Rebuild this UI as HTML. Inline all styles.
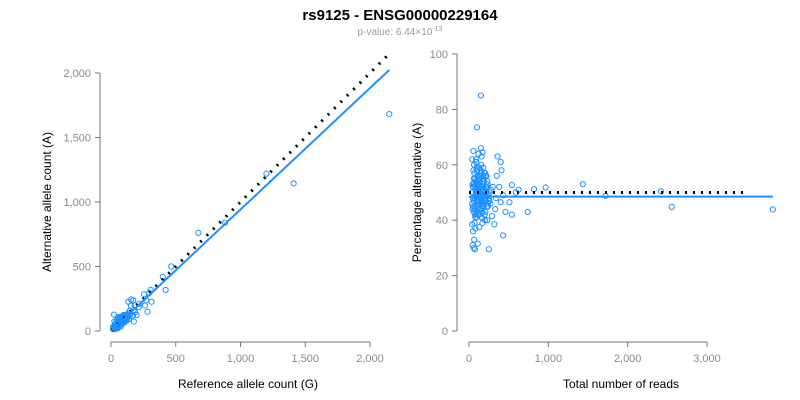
<!DOCTYPE html>
<html><head><meta charset="utf-8">
<style>
body{margin:0;background:#fff;}
svg{display:block;font-family:"Liberation Sans",Arial,sans-serif;}
</style></head>
<body>
<svg id="chart" width="800" height="400" viewBox="0 0 800 400">
<text x="400" y="20" text-anchor="middle" font-size="15" font-weight="bold" fill="#000">rs9125 - ENSG00000229164</text>
<text x="400" y="35" text-anchor="middle" font-size="10" fill="#999">p-value: 6.44×10<tspan dy="-4" font-size="7">-13</tspan></text>
<g id="left"></g>
<g id="right"></g>
</svg>
<script>
// Data: total reads and percentage alternative per sample
const totalReads = [3830,2555,2420,1720,1435,965,820,740,540,430,590,625,510,360,400,410,350,460,540,320,250,430,400,330,290,300,280,380,340,
150,100,150,55,170,120,90,40,160,60,75,45,110,65,50,80,130,40,200,170,230,
45,60,70,80,90,100,110,120,130,140,150,160,170,180,190,200,210,220,240,260,
50,65,75,85,95,105,115,125,135,145,155,165,175,185,195,205,215,230,250,270,
55,70,90,100,110,120,130,140,150,160,170,180,200,220,240,60,80,100,120,140,160,180,200,225,255,
40,48,58,68,78,88,98,108,118,128,138,148,158,168,178,188,198,208,218,228,
42,52,62,72,82,92,102,112,122,132,142,152,162,172,182,192,202,212,235,245,
44,54,64,74,84,94,104,114,124,134,144,154,164,174,184,194,70,90,110,130];
const pctAlt = [43.9,44.8,50.4,48.8,53,51.8,51.2,43,52.7,34.5,50,51,46.5,63,61,58,56,43,42,38.5,29.5,49,46.5,44,41.5,52,51,52,48,
85,73.5,66,65,64.5,64,62,62,63,30,29.5,31,31.5,33,36,37,37.5,38.5,40,39,40,
44,47,52,55,49,58,45,51,53,46,48,57,43,50,54,47,52,56,45,50,
48,55,42,51,59,46,53,44,56,49,60,47,52,45,57,43,50,54,48,46,
58,44,50,53,47,55,42,49,57,51,45,59,48,52,46,53,41,54,47,50,44,56,49,52,47,
46,52,43,57,49,54,41,50,47,55,44,58,51,46,53,48,42,56,50,45,
50,45,55,48,53,43,58,47,52,44,56,49,41,54,46,51,57,47,53,49,
53,48,60,45,51,47,56,43,50,54,47,52,45,49,55,48,39,61,42,59];
const fitPct = [48.5];
const leftXTicks = [0,500,1000,1500,2000];
const leftYTicks = [0,500,1000,1500,2000];
const rightXTicks = [0,1000,2000,3000];
const rightYTicks = [0,20,40,60,80,100];

const NS="http://www.w3.org/2000/svg";
function el(parent,tag,attrs,text){const e=document.createElementNS(NS,tag);for(const k in attrs)e.setAttribute(k,attrs[k]);if(text!==undefined)e.textContent=text;parent.appendChild(e);return e;}
const fmt=v=>v.toLocaleString('en-US');

function drawAxes(g,xs,ys,xT,yT,xAxisY,yAxisX,xlabel,ylabel,xlx,ylx,pre){
  const ax=el(g,'line',{x1:xs(xT[0]),x2:xs(xT[xT.length-1]),y1:xAxisY,y2:xAxisY,stroke:'#777','stroke-width':1});
  
  
  xT.forEach(t=>{
    const tk=el(g,'line',{x1:xs(t),x2:xs(t),y1:xAxisY,y2:xAxisY+5,stroke:'#777'});
    
    
    const tl=el(g,'text',{x:xs(t),y:xAxisY+20,'text-anchor':'middle','font-size':11,fill:'#8a8a8a'},fmt(t));
    
    
  });
  const ay=el(g,'line',{x1:yAxisX,x2:yAxisX,y1:ys(yT[0]),y2:ys(yT[yT.length-1]),stroke:'#777'});
  
  
  yT.forEach(t=>{
    const tk=el(g,'line',{x1:yAxisX-5,x2:yAxisX,y1:ys(t),y2:ys(t),stroke:'#777'});
    
    
    const tl=el(g,'text',{x:yAxisX-9,y:ys(t)+4,'text-anchor':'end','font-size':11,fill:'#8a8a8a'},fmt(t));
    
    
  });
  const xl=el(g,'text',{x:xlx,y:388,'text-anchor':'middle','font-size':12,fill:'#000'},xlabel);
  
  
  const cy=(ys(yT[0])+ys(yT[yT.length-1]))/2;
  const yl=el(g,'text',{x:ylx,y:cy,'text-anchor':'middle','font-size':12,fill:'#000',transform:`rotate(-90 ${ylx} ${cy})`},ylabel);
  
  
}

// Left panel
const L=document.getElementById('left');
const lx=v=>111+v*(259/2000), ly=v=>331-v*(258/2000);
drawAxes(L,lx,ly,leftXTicks,leftYTicks,342,100,'Reference allele count (G)','Alternative allele count (A)',248,51,'left');
const refC=totalReads.map((t,i)=>t*(1-pctAlt[i]/100));
const altC=totalReads.map((t,i)=>t*pctAlt[i]/100);
const maxRef=Math.max(...refC);
const slope=fitPct[0]/(100-fitPct[0]);
refC.forEach((r,i)=>{
  const c=el(L,'circle',{cx:lx(r),cy:ly(altC[i]),r:2.6,fill:'none',stroke:'#1E90FF','stroke-width':1});
  
  
});
const ld=el(L,'line',{x1:lx(0),y1:ly(0),x2:lx(maxRef),y2:ly(maxRef),stroke:'#000','stroke-width':3,'stroke-dasharray':'2 7'});


const lf=el(L,'line',{x1:lx(0),y1:ly(0),x2:lx(maxRef),y2:ly(maxRef*slope),stroke:'#1E90FF','stroke-width':2});



// Right panel
const R=document.getElementById('right');
const rx=v=>469+v*(238/3000), ry=v=>331-v*(277/100);
drawAxes(R,rx,ry,rightXTicks,rightYTicks,342,457,'Total number of reads','Percentage alternative (A)',621,421,'right');
const maxT=Math.max(...totalReads);
totalReads.forEach((t,i)=>{
  const c=el(R,'circle',{cx:rx(t),cy:ry(pctAlt[i]),r:2.6,fill:'none',stroke:'#1E90FF','stroke-width':1});
  
  
});
const rd=el(R,'line',{x1:rx(0),y1:ry(50),x2:rx(3500),y2:ry(50),stroke:'#000','stroke-width':3,'stroke-dasharray':'2 6'});


const rf=el(R,'line',{x1:rx(0),y1:ry(fitPct[0]),x2:rx(maxT),y2:ry(fitPct[0]),stroke:'#1E90FF','stroke-width':2});


</script>
</body></html>
